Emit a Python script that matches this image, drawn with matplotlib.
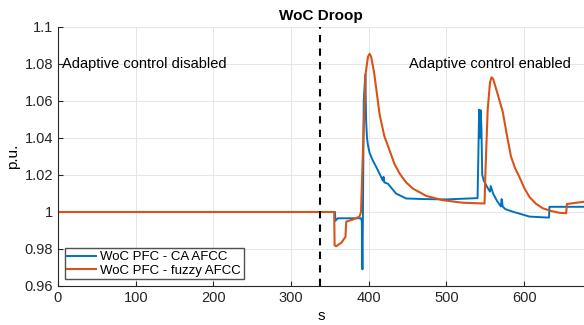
import matplotlib.pyplot as plt

plt.rcParams["font.family"] = ["Liberation Sans", "DejaVu Sans"]

# WoC PFC - CA AFCC (blue)
t_ca = [0, 356.5, 357, 360, 390, 391, 391.8, 392.5, 393.5, 395.6, 396.5, 397.7,
        399, 401, 405, 410, 414, 418, 419, 420, 424.6, 435, 448, 470, 500, 540,
        541, 542, 543, 544, 545, 546, 548, 553, 556, 557, 560, 565, 570, 571,
        572.5, 576, 585, 607, 630, 632, 632.5, 677]
v_ca = [1.0, 1.0, 0.9952, 0.9966, 0.9966, 0.995, 0.969, 1.0, 1.06, 1.0745, 1.05, 1.040,
        1.036, 1.032, 1.028, 1.024, 1.0206, 1.017, 1.019, 1.016, 1.0153, 1.010, 1.0073,
        1.007, 1.0068, 1.0075, 1.03, 1.0553, 1.04, 1.055, 1.045, 1.02, 1.017, 1.013,
        1.011, 1.014, 1.010, 1.006, 1.003, 1.007, 1.0028, 1.0015, 1.0002, 0.9975,
        0.997, 0.997, 1.0028, 1.0028]

# WoC PFC - fuzzy AFCC (orange)
t_fz = [0, 355.5, 356, 358, 365, 369, 370, 371, 380, 388, 390, 393, 396, 399, 401,
        403, 407, 414, 420, 427, 433, 440, 448, 457, 474, 495, 521, 549, 550, 553,
        556, 558, 560, 565, 572.5, 578, 583, 588, 594, 600, 607, 615, 624, 635, 645,
        654, 655, 667, 677]
v_fz = [1.0, 1.0, 0.982, 0.9815, 0.9835, 0.986, 0.9865, 0.9948, 0.996, 0.9975, 1.0,
        1.04, 1.075, 1.084, 1.0855, 1.084, 1.075, 1.0526, 1.041, 1.033, 1.026, 1.0206,
        1.016, 1.0126, 1.0087, 1.0064, 1.005, 1.0046, 1.02, 1.055, 1.07, 1.0728, 1.072,
        1.065, 1.054, 1.041, 1.030, 1.024, 1.0188, 1.013, 1.008, 1.0045, 1.002, 1.0005,
        0.9996, 0.9993, 1.0043, 1.005, 1.0055]

switch_t = 337

fig = plt.figure(figsize=(5.84, 3.25), dpi=100)
ax = fig.add_axes([0.0993, 0.12, 0.9007, 0.797])

ax.plot(t_ca, v_ca, color="#0072BD", lw=1.4, label="WoC PFC - CA AFCC")
ax.plot(t_fz, v_fz, color="#D95319", lw=1.5, label="WoC PFC - fuzzy AFCC")
ax.axvline(switch_t, color="black", ls=(0, (3.5, 3)), lw=1.5)

ax.text(5, 1.08, "Adaptive control disabled", fontsize=10.5, va="center")
ax.text(452, 1.08, "Adaptive control enabled", fontsize=10.5, va="center")

ax.set_xlim(0, 677)
ax.set_ylim(0.96, 1.1)
ax.set_xticks([0, 100, 200, 300, 400, 500, 600])
ax.set_yticks([0.96, 0.98, 1.0, 1.02, 1.04, 1.06, 1.08, 1.1])
ax.set_yticklabels(["0.96", "0.98", "1", "1.02", "1.04", "1.06", "1.08", "1.1"])
ax.tick_params(direction="in", labelsize=10.5, color="#262626", labelcolor="#262626",
               top=False, right=False)
ax.grid(True, color="#e6e6e6", lw=0.7)
ax.set_axisbelow(True)
for s in ["top", "right"]:
    ax.spines[s].set_visible(False)
for s in ["left", "bottom"]:
    ax.spines[s].set_color("#262626")

ax.set_xlabel("s", fontsize=11, labelpad=3)
ax.set_ylabel("p.u.", fontsize=11, labelpad=3)
ax.set_title("WoC Droop", fontsize=11, fontweight="bold", pad=5)

ax.legend(loc="lower left", fontsize=9.5, frameon=True, fancybox=False,
          edgecolor="#262626", borderpad=0.2, handlelength=2.2, handletextpad=0.3,
          labelspacing=0.1, borderaxespad=0.5)

fig.savefig("out.png", dpi=100)
